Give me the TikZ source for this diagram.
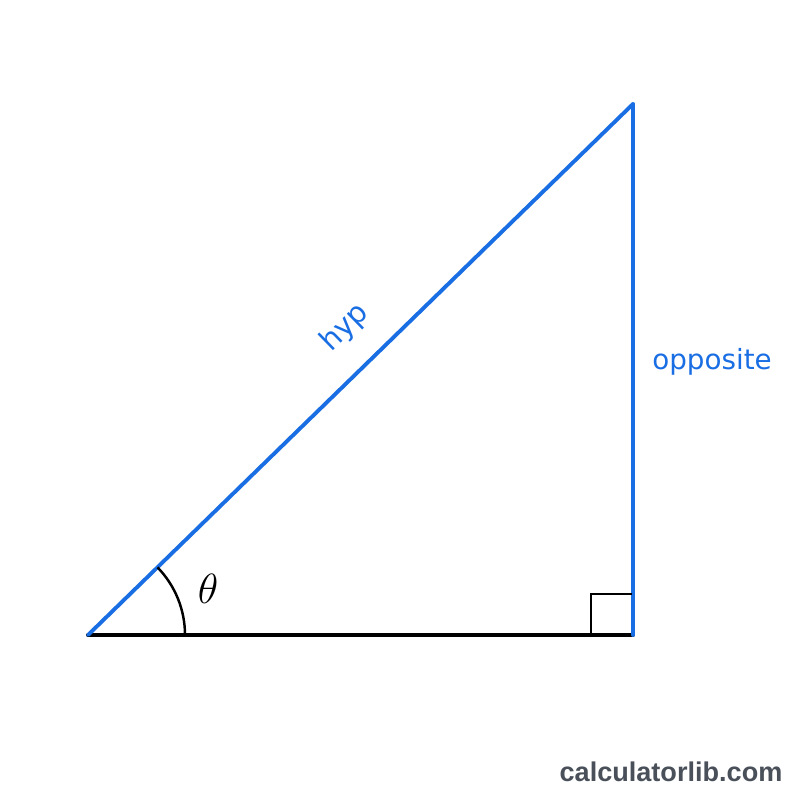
\documentclass[tikz,border=0pt]{standalone}
\usepackage{fontspec}
\setmainfont{DejaVu Sans}
\newfontfamily\wmfont{Liberation Sans}
\definecolor{triblue}{RGB}{26,110,228}
\definecolor{wmgray}{RGB}{74,80,90}
\begin{document}
\begin{tikzpicture}[x=0.01cm,y=-0.01cm,
  side/.style={line width=1.1pt,line cap=round},
  lbl/.style={text=triblue,font=\fontsize{7.9}{9}\selectfont,inner sep=0pt}]
\useasboundingbox[fill=white] (0,0) rectangle (800,800);
\coordinate (A) at (88,635);
\coordinate (B) at (633,635);
\coordinate (C) at (633,104);
\draw[side,black] (A) -- (B);
\draw[side,triblue] (B) -- (C);
\draw[side,triblue] (A) -- (C);
\draw[line width=0.7pt] (185,635) arc[start angle=0,end angle=-44.25,radius=97];
\draw[line width=0.65pt] (591,634) -- (591,594) -- (632,594);
\node[lbl,rotate=44.25,font=\fontsize{8.3}{9}\selectfont] (hyp) at (345,328) {hyp};
\node[lbl] (opp) at (712,362) {opposite};
\node[inner sep=0pt,font=\fontsize{11.5}{13}\selectfont] (theta) at (208,589) {$\theta$};
\node[inner sep=0pt,text=wmgray,font=\wmfont\bfseries\fontsize{7.7}{9}\selectfont] (wm) at (671,772) {calculatorlib.com};
\end{tikzpicture}
\end{document}
